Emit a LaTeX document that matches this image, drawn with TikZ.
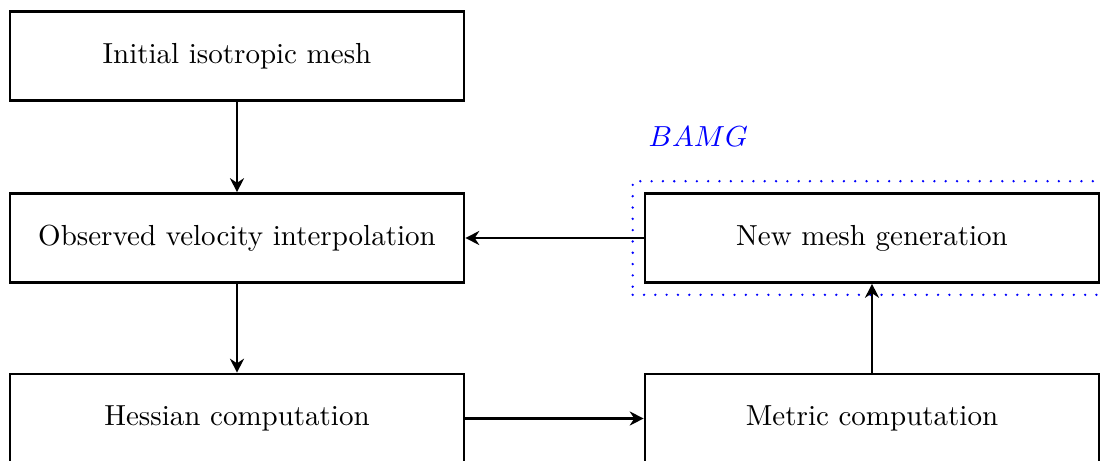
\documentclass[tikz,border=0pt]{standalone}
\usetikzlibrary{arrows.meta,fit}
\begin{document}
\begin{tikzpicture}[x=0.3448pt,y=-0.3448pt,
  stepbox/.style={draw,line width=0.9pt,minimum width=454*0.3448pt,minimum height=89*0.3448pt,inner sep=0pt,font=\normalsize},
  flow/.style={-{Stealth[length=4.8pt,width=4.8pt]},line width=0.9pt},
  groupbox/.style={draw=blue,line width=0.9pt,line cap=round,dash pattern=on 0pt off 3.9pt,inner sep=11*0.3448pt}]
\useasboundingbox (0,0) rectangle (1101,461);
\node[stepbox] (init) at (237,56) {Initial isotropic mesh};
\node[stepbox] (obs) at (237,238) {Observed velocity interpolation};
\node[stepbox] (hess) at (237,418.5) {Hessian computation};
\node[stepbox] (newm) at (872,238) {New mesh generation};
\node[stepbox] (metr) at (872,418.5) {Metric computation};
\node[groupbox,fit=(newm)] (bamg) {};
\node[anchor=base west,text=blue,inner sep=0pt] (bamglbl) at (648,146) {$BAMG$};
\draw[flow] (init) -- (obs);
\draw[flow] (obs) -- (hess);
\draw[flow] (hess) -- (metr);
\draw[flow] (metr) -- (newm);
\draw[flow] (newm) -- (obs);
\end{tikzpicture}
\end{document}
